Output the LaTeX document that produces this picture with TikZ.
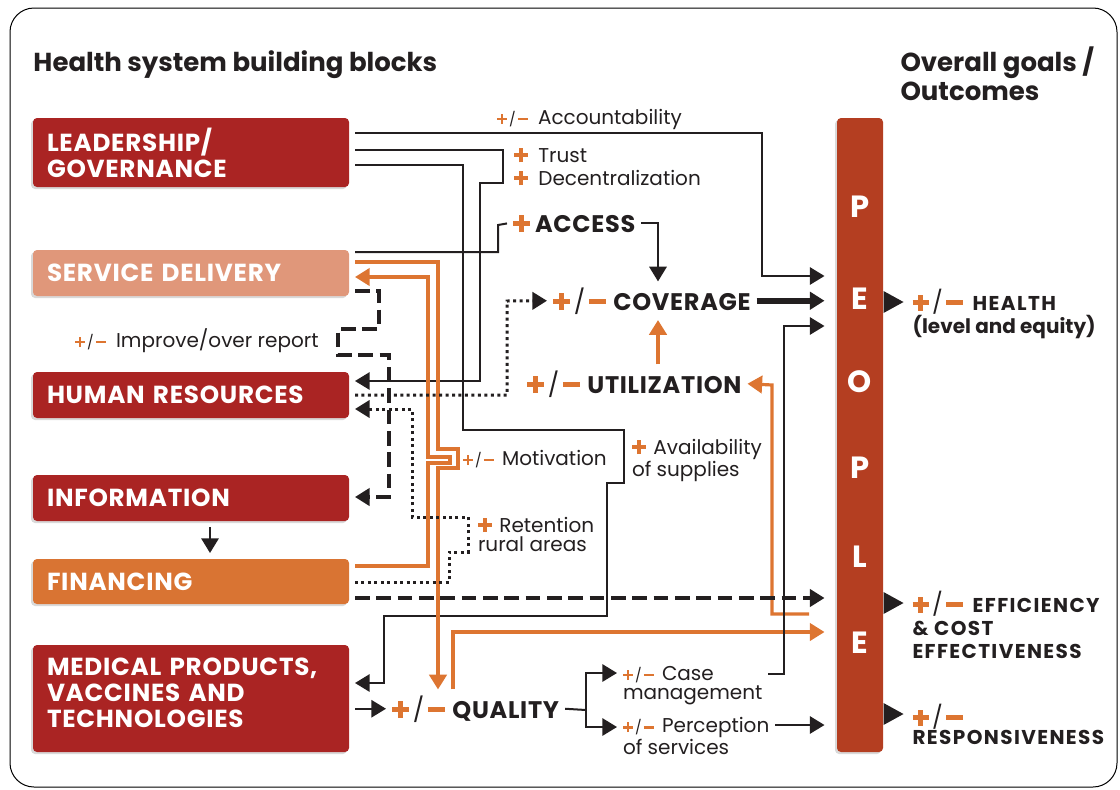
\documentclass[tikz,border=0pt]{standalone}
\usepackage{fontspec}
\setmainfont{Poppins}
\usetikzlibrary{arrows.meta,shadows}

\definecolor{ink}{RGB}{35,31,32}
\definecolor{accent}{RGB}{221,117,49}
\definecolor{blockred}{RGB}{170,36,35}
\definecolor{blocksalmon}{RGB}{224,151,122}
\definecolor{blockorange}{RGB}{217,116,51}
\definecolor{peoplered}{RGB}{180,62,33}

\newcommand{\accbar}{\rule[0.26em]{0.72em}{0.2em}}
\newcommand{\accplus}{\textcolor{accent}{\rlap{\accbar}\hspace{0.26em}\rule{0.2em}{0.72em}\hspace{0.26em}}}
\newcommand{\accminus}{\textcolor{accent}{\accbar}}
\newcommand{\accpm}{\accplus\kern0.15em{\mdseries/}\kern0.15em\accminus}
\newcommand{\smallpm}{{\fontsize{10.5}{10.5}\selectfont\accpm}}
\newcommand{\capsp}[1]{{\addfontfeature{LetterSpace=7}#1}}

\tikzset{every picture/.style={line width=0.75pt}}
\tikzset{
  block/.style={anchor=west, minimum height=#1, text width=216pt, inner xsep=10.5pt, inner ysep=0pt, outer sep=4.5pt, align=left, rounded corners=3pt, text=white, font=\bfseries\fontsize{18.5}{19.5}\selectfont\addfontfeature{LetterSpace=3}, drop shadow={shadow xshift=-1.5pt, shadow yshift=-1.5pt, opacity=0.3}},
  head/.style={inner sep=0pt, text=ink, align=left, font=\bfseries\fontsize{19.5}{22}\selectfont},
  lbl/.style={inner sep=0pt, outer sep=4.5pt, text=ink, font=\fontsize{15}{14.25}\selectfont},
  bigl/.style={lbl, font=\bfseries\fontsize{18}{19}\selectfont\addfontfeature{LetterSpace=3}},
  goal/.style={inner sep=0pt, text=ink, align=left, font=\bfseries\fontsize{15}{17.25}\selectfont},
  letter/.style={inner sep=0pt, text=white, font=\bfseries\fontsize{23}{23}\selectfont},
  conn/.style={draw=ink, line width=1.5pt},
  arr/.style={-{Triangle[length=11pt,width=13pt]}},
  into/.style={shorten >=9pt},
  orangeline/.style={draw=accent, line width=2.4pt},
  dashline/.style={conn, line width=2.5pt, dash pattern=on 11pt off 5pt},
  dotline/.style={conn, line width=2.25pt, dash pattern=on 2.25pt off 2.6pt},
}

\begin{document}
\begin{tikzpicture}[x=0.75pt,y=0.75pt,yscale=-1,xscale=1]
\useasboundingbox (0,0) rectangle (1120,789);

%Shape: Frame
\draw [line width=0.75pt, rounded corners=18pt] (10,8) rectangle (1117,787);

% Text Node
\draw (33,71) node [anchor=base west][head] (hleft) {Health system building blocks};
% Text Node
\draw (900,46) node [anchor=north west][head] (hright) {Overall goals /\\Outcomes};

%Shape: Building blocks
\draw (27,152.5) node [block=51.75pt, fill=blockred] (lead) {LEADERSHIP/\\GOVERNANCE};
\draw (27,273) node [block=34.5pt, fill=blocksalmon] (serv) {SERVICE DELIVERY};
\draw (27,395) node [block=34.5pt, fill=blockred] (hr) {HUMAN RESOURCES};
\draw (27,498) node [block=34.5pt, fill=blockred] (info) {INFORMATION};
\draw (27,581.5) node [block=33.75pt, fill=blockorange] (fin) {FINANCING};
\draw (27,698.5) node [block=80.25pt, fill=blockred, text depth=48pt] (med) {MEDICAL PRODUCTS,\\VACCINES AND\\TECHNOLOGIES};

%Shape: People bar
\draw (860,435) node [minimum width=34.5pt, minimum height=475.5pt, inner sep=0pt, fill=peoplered, rounded corners=3pt, drop shadow={shadow xshift=-1.5pt, shadow yshift=-1.5pt, opacity=0.3}] (people) {};
\draw (860,207) node [letter] (p1) {P};
\draw (860,299) node [letter] (e1) {E};
\draw (860,382) node [letter] (o1) {O};
\draw (860,468) node [letter] (p2) {P};
\draw (860,557) node [letter] (l1) {L};
\draw (860,643) node [letter] (e2) {E};

% Text Node
\draw (491,124) node [anchor=base west][lbl] (acct) {\smallpm\enspace Accountability};
% Text Node
\draw (508,142) node [anchor=north west][lbl, align=left] (trust) {\accplus\enspace Trust\\[3pt]\accplus\enspace Decentralization};
% Text Node
\draw (69,347) node [anchor=base west][lbl] (impr) {\smallpm\enspace Improve/over report};
% Text Node
\draw (507,232) node [anchor=base west][bigl] (acc) {\accplus\kern0.2em ACCESS};
% Text Node
\draw (547,310) node [anchor=base west][bigl] (cov) {\accpm\kern0.3em COVERAGE};
% Text Node
\draw (521,393) node [anchor=base west][bigl] (util) {\accpm\kern0.3em UTILIZATION};
% Text Node
\draw (457,465) node [anchor=base west][lbl] (motiv) {\smallpm\kern0.4em Motivation};
% Text Node
\draw (626,433) node [anchor=north west][lbl, align=left] (avail) {\accplus\kern0.35em Availability\\of supplies};
% Text Node
\draw (472,511) node [anchor=north west][lbl, align=left] (retn) {\accplus\kern0.35em Retention\\rural areas};
% Text Node
\draw (386,718) node [anchor=base west][bigl] (qual) {\accpm\kern0.3em QUALITY};
% Text Node
\draw (617,660) node [anchor=north west][lbl, align=left] (casem) {\smallpm\kern0.4em Case\\management};
% Text Node
\draw (617,711) node [anchor=north west][lbl, align=left] (percep) {\smallpm\kern0.4em Perception\\of services};

% Text Node
\draw (912,289) node [anchor=north west][goal] (health) {{\fontsize{17}{17}\selectfont\accpm}\enspace\capsp{HEALTH}\\(level and equity)};
% Text Node
\draw (912,591) node [anchor=north west][goal] (effic) {{\fontsize{17}{17}\selectfont\accpm}\enspace\capsp{EFFICIENCY}\\\capsp{\& COST}\\\capsp{EFFECTIVENESS}};
% Text Node
\draw (912,704) node [anchor=north west][goal] (resp) {{\fontsize{17}{17}\selectfont\accpm}\\[-3pt]\capsp{RESPONSIVENESS}};

%Shape: Outcome arrows
\fill [ink] (people.east |- 0,291) -- (people.east |- 0,313) -- ++(20,-11) -- cycle;
\fill [ink] (people.east |- 0,592) -- (people.east |- 0,614) -- ++(20,-11) -- cycle;
\fill [ink] (people.east |- 0,703) -- (people.east |- 0,725) -- ++(20,-11) -- cycle;

%Straight Lines
\draw [conn, arr, into] (lead.east |- 0,133) -- (762,133) -- (762,276) -- (people.west |- 0,276);
%Straight Lines
\draw [conn, arr] (lead.east |- 0,150) -- (503,150) -- (503,183) -- (480,183) -- (480,381) -- (hr.east |- 0,381);
%Straight Lines
\draw [conn, arr] (lead.east |- 0,165) -- (463,165) -- (463,430) -- (624,430) -- (624,483) -- (607,483) -- (607,616) -- (384,616) -- (384,683) -- (med.east |- 0,683);
%Straight Lines
\draw [conn] (serv.east |- 0,252) -- (498,252) -- (498,225) -- (acc.west);
%Straight Lines
\draw [conn, arr] (acc.east) -| (cov.north -| 658,0);
%Straight Lines
\draw [conn, line width=4.5pt, arr, into] (cov.east) -- (cov.east -| people.west);

%Straight Lines
\draw [orangeline, arr] (serv.east |- 0,262) -- (438,262) -- (438,449) -- (458,449) -- (458,468) -- (438,468) -- (qual.north -| 438,0);
%Straight Lines
\draw [orangeline, arr] (fin.east |- 0,566) -- (428,566) -- (428,463) -- (450,463) -- (450,457) -- (428,457) -- (428,277) -- (serv.east |- 0,277);
%Straight Lines
\draw [orangeline, arr, into] (qual.north -| 453,0) -- (453,632) -- (people.west |- 0,632);
%Straight Lines
\coordinate (back) at (809,614);
\draw [orangeline, arr] (back) -- (772,614) -- (772,385) -- (util.east);
%Straight Lines
\draw [orangeline, arr] (util.north -| 658,0) -- (cov.south -| 658,0);

%Straight Lines
\draw [dotline, arr] (hr.east |- 0,395) -- (507,395) -- (507,301) -- (cov.west);
%Straight Lines
\draw [dotline, arr] (fin.east |- 0,582) -- (449,582) -- (449,552) -- (468,552) -- (468,517) -- (412,517) -- (412,409) -- (hr.east |- 0,409);
%Straight Lines
\draw [dashline, arr] (serv.east |- 0,291) -- (379,291) -- (379,329) -- (338,329) -- (338,355) -- (389,355) -- (389,497) -- (info.east |- 0,497);
%Straight Lines
\draw [dashline, arr, into] (fin.east |- 0,598) -- (people.west |- 0,598);

%Straight Lines
\draw [conn, arr] (info.south -| 210,0) -- (fin.north -| 210,0);
%Straight Lines
\draw [conn, arr] (med.east |- qual.west) -- (qual.west);
%Straight Lines
\draw [conn] (qual.east) -- (586,710);
\draw [conn, arr] (586,710) |- (casem.west |- 0,673);
\draw [conn, arr] (586,710) |- (percep.west |- 0,727);
%Straight Lines
\draw [conn, arr, into] (casem.east |- 0,674) -- (784,674) -- (784,326) -- (people.west |- 0,326);
%Straight Lines
\draw [conn, arr, into] (percep.east |- 0,725) -- (people.west |- 0,725);

\end{tikzpicture}
\end{document}
